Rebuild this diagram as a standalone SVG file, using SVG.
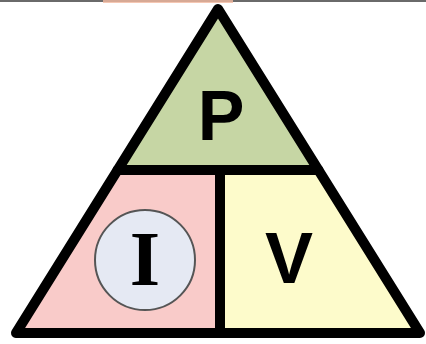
<svg xmlns="http://www.w3.org/2000/svg" width="426" height="344" viewBox="0 0 426 344">
<style>
.lbl{font-family:"Liberation Sans",Arial,sans-serif;font-weight:bold;fill:#000;text-anchor:middle}
.ser{font-family:"Liberation Serif","Times New Roman",serif;font-weight:bold;fill:#000;text-anchor:middle}
.edge{fill:none;stroke:#000;stroke-width:10;stroke-linejoin:round;stroke-linecap:round}
</style>
<rect x="0" y="0" width="426" height="344" fill="#fff"/>
<rect x="0" y="0" width="426" height="2" fill="#6a6a6a"/>
<rect x="103" y="0" width="130" height="3" fill="#f2b9a0" opacity="0.8"/>
<g id="P">
<polygon points="218,9 117.6,170 318.4,170" fill="#c6d6a4"/>
<text class="lbl" x="221" y="140" font-size="70">P</text>
</g>
<g id="I">
<polygon points="117.6,170 220,170 220,333 16,333" fill="#f9cbc9"/>
<circle cx="145" cy="260" r="50" fill="#e5e9f3" stroke="#555" stroke-width="2"/>
<text class="ser" x="145" y="285" font-size="78">I</text>
</g>
<g id="V">
<polygon points="220,170 318.4,170 420,333 220,333" fill="#fdfbcb"/>
<text class="lbl" x="289" y="283" font-size="72">V</text>
</g>
<g id="connectors">
<polygon class="edge" points="218,9 16,333 420,333"/>
<line class="edge" x1="117.6" y1="170" x2="318.4" y2="170" stroke-width="9"/>
<line class="edge" x1="220" y1="170" x2="220" y2="333" stroke-width="9"/>
</g>
</svg>
